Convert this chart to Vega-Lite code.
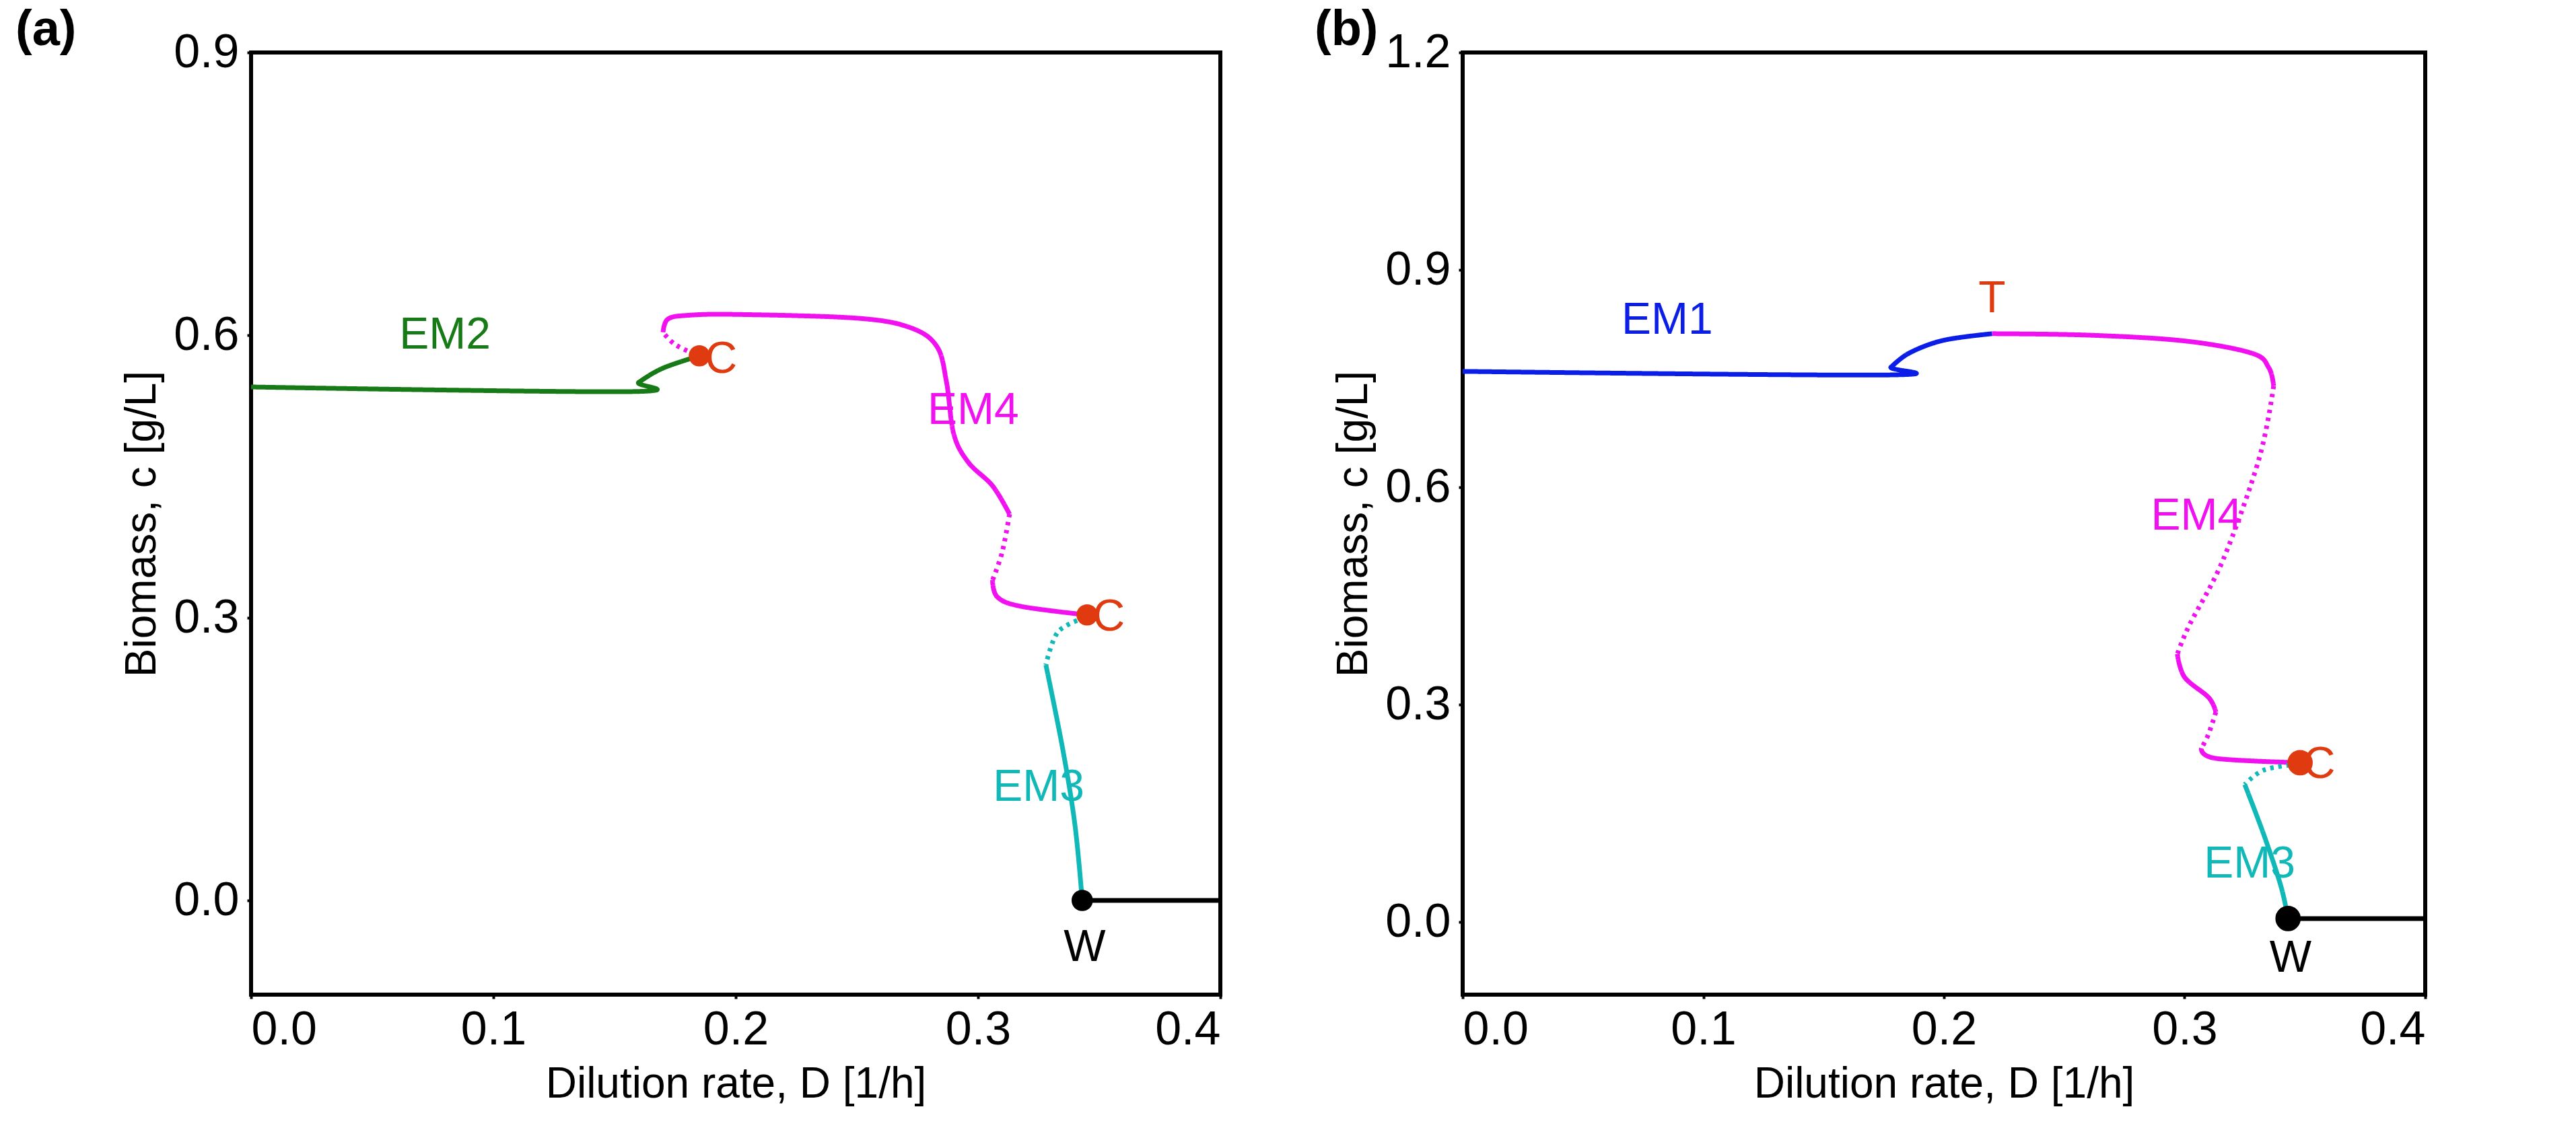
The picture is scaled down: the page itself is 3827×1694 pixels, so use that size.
{
  "$schema": "https://vega.github.io/schema/vega-lite/v6.json",
  "background": "white",
  "padding": {"left": 20, "top": 5, "right": 40, "bottom": 5},
  "spacing": 120,
  "config": {
    "font": "Liberation Sans",
    "view": {"stroke": "black", "strokeWidth": 6},
    "axis": {"grid": false, "domain": false, "ticks": true, "tickSize": 6, "tickWidth": 4, "tickColor": "black",
      "labelFontSize": 70, "labelColor": "black", "titleFontSize": 64, "titleFontWeight": "normal", "titleColor": "black", "labelPadding": 12, "titlePadding": 14, "format": ".1f"},
    "title": {"fontSize": 74, "fontWeight": "bold", "anchor": "start", "frame": "group"}
  },
  "datasets": {
    "linesA": [
      {"s": "g1", "st": "solid", "c": "EM2", "o": 1, "x": 0, "y": 0.545},
      {"s": "g1", "st": "solid", "c": "EM2", "o": 2, "x": 0.155, "y": 0.54},
      {"s": "g1", "st": "solid", "c": "EM2", "o": 3, "x": 0.16, "y": 0.55},
      {"s": "g1", "st": "solid", "c": "EM2", "o": 4, "x": 0.17, "y": 0.565},
      {"s": "g1", "st": "solid", "c": "EM2", "o": 5, "x": 0.185, "y": 0.578},
      {"s": "m1", "st": "dot", "c": "EM4", "o": 1, "x": 0.183, "y": 0.58},
      {"s": "m1", "st": "dot", "c": "EM4", "o": 2, "x": 0.175, "y": 0.59},
      {"s": "m1", "st": "dot", "c": "EM4", "o": 3, "x": 0.17, "y": 0.603},
      {"s": "m2", "st": "solid", "c": "EM4", "o": 1, "x": 0.17, "y": 0.603},
      {"s": "m2", "st": "solid", "c": "EM4", "o": 2, "x": 0.172, "y": 0.617},
      {"s": "m2", "st": "solid", "c": "EM4", "o": 3, "x": 0.18, "y": 0.621},
      {"s": "m2", "st": "solid", "c": "EM4", "o": 4, "x": 0.2, "y": 0.622},
      {"s": "m2", "st": "solid", "c": "EM4", "o": 5, "x": 0.25, "y": 0.618},
      {"s": "m2", "st": "solid", "c": "EM4", "o": 6, "x": 0.272, "y": 0.608},
      {"s": "m2", "st": "solid", "c": "EM4", "o": 7, "x": 0.283, "y": 0.588},
      {"s": "m2", "st": "solid", "c": "EM4", "o": 8, "x": 0.287, "y": 0.55},
      {"s": "m2", "st": "solid", "c": "EM4", "o": 9, "x": 0.29, "y": 0.495},
      {"s": "m2", "st": "solid", "c": "EM4", "o": 10, "x": 0.296, "y": 0.465},
      {"s": "m2", "st": "solid", "c": "EM4", "o": 11, "x": 0.306, "y": 0.44},
      {"s": "m2", "st": "solid", "c": "EM4", "o": 12, "x": 0.313, "y": 0.41},
      {"s": "m3", "st": "dot", "c": "EM4", "o": 1, "x": 0.313, "y": 0.41},
      {"s": "m3", "st": "dot", "c": "EM4", "o": 2, "x": 0.31, "y": 0.37},
      {"s": "m3", "st": "dot", "c": "EM4", "o": 3, "x": 0.306, "y": 0.34},
      {"s": "m4", "st": "solid", "c": "EM4", "o": 1, "x": 0.306, "y": 0.34},
      {"s": "m4", "st": "solid", "c": "EM4", "o": 2, "x": 0.308, "y": 0.322},
      {"s": "m4", "st": "solid", "c": "EM4", "o": 3, "x": 0.318, "y": 0.312},
      {"s": "m4", "st": "solid", "c": "EM4", "o": 4, "x": 0.345, "y": 0.303},
      {"s": "c1", "st": "dot", "c": "EM3", "o": 1, "x": 0.344, "y": 0.3},
      {"s": "c1", "st": "dot", "c": "EM3", "o": 2, "x": 0.333, "y": 0.285},
      {"s": "c1", "st": "dot", "c": "EM3", "o": 3, "x": 0.328, "y": 0.25},
      {"s": "c2", "st": "solid", "c": "EM3", "o": 1, "x": 0.328, "y": 0.25},
      {"s": "c2", "st": "solid", "c": "EM3", "o": 2, "x": 0.335, "y": 0.16},
      {"s": "c2", "st": "solid", "c": "EM3", "o": 3, "x": 0.34, "y": 0.08},
      {"s": "c2", "st": "solid", "c": "EM3", "o": 4, "x": 0.343, "y": 0},
      {"s": "k1", "st": "solid", "c": "W", "o": 1, "x": 0.343, "y": 0},
      {"s": "k1", "st": "solid", "c": "W", "o": 2, "x": 0.4, "y": 0}
    ],
    "linesB": [
      {"s": "b1", "st": "solid", "c": "EM1", "o": 1, "x": 0, "y": 0.76},
      {"s": "b1", "st": "solid", "c": "EM1", "o": 2, "x": 0.175, "y": 0.755},
      {"s": "b1", "st": "solid", "c": "EM1", "o": 3, "x": 0.178, "y": 0.766},
      {"s": "b1", "st": "solid", "c": "EM1", "o": 4, "x": 0.186, "y": 0.786},
      {"s": "b1", "st": "solid", "c": "EM1", "o": 5, "x": 0.2, "y": 0.803},
      {"s": "b1", "st": "solid", "c": "EM1", "o": 6, "x": 0.22, "y": 0.812},
      {"s": "m1", "st": "solid", "c": "EM4", "o": 1, "x": 0.22, "y": 0.812},
      {"s": "m1", "st": "solid", "c": "EM4", "o": 2, "x": 0.26, "y": 0.81},
      {"s": "m1", "st": "solid", "c": "EM4", "o": 3, "x": 0.3, "y": 0.802},
      {"s": "m1", "st": "solid", "c": "EM4", "o": 4, "x": 0.328, "y": 0.785},
      {"s": "m1", "st": "solid", "c": "EM4", "o": 5, "x": 0.335, "y": 0.765},
      {"s": "m1", "st": "solid", "c": "EM4", "o": 6, "x": 0.337, "y": 0.74},
      {"s": "m2", "st": "dot", "c": "EM4", "o": 1, "x": 0.337, "y": 0.74},
      {"s": "m2", "st": "dot", "c": "EM4", "o": 2, "x": 0.331, "y": 0.64},
      {"s": "m2", "st": "dot", "c": "EM4", "o": 3, "x": 0.316, "y": 0.5},
      {"s": "m2", "st": "dot", "c": "EM4", "o": 4, "x": 0.302, "y": 0.41},
      {"s": "m2", "st": "dot", "c": "EM4", "o": 5, "x": 0.297, "y": 0.37},
      {"s": "m3", "st": "solid", "c": "EM4", "o": 1, "x": 0.297, "y": 0.37},
      {"s": "m3", "st": "solid", "c": "EM4", "o": 2, "x": 0.3, "y": 0.338},
      {"s": "m3", "st": "solid", "c": "EM4", "o": 3, "x": 0.31, "y": 0.31},
      {"s": "m3", "st": "solid", "c": "EM4", "o": 4, "x": 0.313, "y": 0.29},
      {"s": "m4", "st": "dot", "c": "EM4", "o": 1, "x": 0.313, "y": 0.29},
      {"s": "m4", "st": "dot", "c": "EM4", "o": 2, "x": 0.31, "y": 0.26},
      {"s": "m4", "st": "dot", "c": "EM4", "o": 3, "x": 0.307, "y": 0.24},
      {"s": "m5", "st": "solid", "c": "EM4", "o": 1, "x": 0.307, "y": 0.24},
      {"s": "m5", "st": "solid", "c": "EM4", "o": 2, "x": 0.313, "y": 0.226},
      {"s": "m5", "st": "solid", "c": "EM4", "o": 3, "x": 0.348, "y": 0.22},
      {"s": "c1", "st": "dot", "c": "EM3", "o": 1, "x": 0.347, "y": 0.218},
      {"s": "c1", "st": "dot", "c": "EM3", "o": 2, "x": 0.333, "y": 0.21},
      {"s": "c1", "st": "dot", "c": "EM3", "o": 3, "x": 0.325, "y": 0.19},
      {"s": "c2", "st": "solid", "c": "EM3", "o": 1, "x": 0.325, "y": 0.19},
      {"s": "c2", "st": "solid", "c": "EM3", "o": 2, "x": 0.333, "y": 0.12},
      {"s": "c2", "st": "solid", "c": "EM3", "o": 3, "x": 0.34, "y": 0.05},
      {"s": "c2", "st": "solid", "c": "EM3", "o": 4, "x": 0.343, "y": 0.005},
      {"s": "k1", "st": "solid", "c": "W", "o": 1, "x": 0.343, "y": 0.005},
      {"s": "k1", "st": "solid", "c": "W", "o": 2, "x": 0.4, "y": 0.005}
    ],
    "ptsA": [
      {"p": "C", "x": 0.185, "y": 0.578},
      {"p": "C", "x": 0.345, "y": 0.303},
      {"p": "W", "x": 0.343, "y": 0}
    ],
    "ptsB": [
      {"p": "T", "x": 0.22, "y": 0.812},
      {"p": "C", "x": 0.348, "y": 0.22},
      {"p": "W", "x": 0.343, "y": 0.005}
    ],
    "labA": [
      {"t": "EM2", "c": "EM2", "x": 0.08, "y": 0.6, "a": "center"},
      {"t": "C", "c": "C", "x": 0.194, "y": 0.574, "a": "left"},
      {"t": "EM4", "c": "EM4", "x": 0.298, "y": 0.52, "a": "left"},
      {"t": "C", "c": "C", "x": 0.354, "y": 0.301, "a": "left"},
      {"t": "EM3", "c": "EM3", "x": 0.325, "y": 0.12, "a": "right"},
      {"t": "W", "c": "W", "x": 0.344, "y": -0.05, "a": "center"}
    ],
    "labB": [
      {"t": "EM1", "c": "EM1", "x": 0.085, "y": 0.83, "a": "center"},
      {"t": "T", "c": "C", "x": 0.22, "y": 0.86, "a": "center"},
      {"t": "EM4", "c": "EM4", "x": 0.305, "y": 0.56, "a": "right"},
      {"t": "C", "c": "C", "x": 0.356, "y": 0.218, "a": "left"},
      {"t": "EM3", "c": "EM3", "x": 0.327, "y": 0.08, "a": "right"},
      {"t": "W", "c": "W", "x": 0.344, "y": -0.05, "a": "center"}
    ]
  },
  "hconcat": [
    {
      "width": 1440,
      "height": 1400,
      "title": {"text": "(a)", "dx": -350, "offset": -40},
      "layer": [
        {
          "data": {"name": "linesA"},
          "mark": {"type": "line", "strokeWidth": 7, "interpolate": "cardinal"},
          "encoding": {
            "x": {"field": "x", "type": "quantitative", "scale": {"domain": [0, 0.4]}, "axis": {"values": [0, 0.1, 0.2, 0.3, 0.4], "title": "Dilution rate, D [1/h]"}},
            "y": {"field": "y", "type": "quantitative", "scale": {"domain": [-0.1, 0.9]}, "axis": {"values": [0, 0.3, 0.6, 0.9], "title": "Biomass, c [g/L]"}},
            "detail": {"field": "s"},
            "order": {"field": "o"},
            "color": {"field": "c", "scale": {"domain": ["EM1", "EM2", "EM3", "EM4", "W", "C"], "range": ["#0a1ee8", "#167a16", "#10b8b8", "#f010f0", "#000000", "#e03a10"]}, "legend": null},
            "strokeDash": {"field": "st", "scale": {"domain": ["solid", "dot"], "range": [[1, 0], [5, 7]]}, "legend": null}
          }
        },
        {
          "data": {"name": "ptsA"},
          "mark": {"type": "point", "filled": true, "size": 1000, "opacity": 1},
          "encoding": {
            "x": {"field": "x", "type": "quantitative"},
            "y": {"field": "y", "type": "quantitative"},
            "color": {"field": "p", "legend": null}
          }
        },
        {
          "data": {"name": "labA"},
          "mark": {"type": "text", "fontSize": 66, "baseline": "middle"},
          "encoding": {
            "x": {"field": "x", "type": "quantitative"},
            "y": {"field": "y", "type": "quantitative"},
            "text": {"field": "t"},
            "align": {"field": "a"},
            "color": {"field": "c", "legend": null}
          }
        }
      ]
    },
    {
      "width": 1430,
      "height": 1400,
      "title": {"text": "(b)", "dx": -220, "offset": -40},
      "layer": [
        {
          "data": {"name": "linesB"},
          "mark": {"type": "line", "strokeWidth": 7, "interpolate": "cardinal"},
          "encoding": {
            "x": {"field": "x", "type": "quantitative", "scale": {"domain": [0, 0.4]}, "axis": {"values": [0, 0.1, 0.2, 0.3, 0.4], "title": "Dilution rate, D [1/h]"}},
            "y": {"field": "y", "type": "quantitative", "scale": {"domain": [-0.1, 1.2]}, "axis": {"values": [0, 0.3, 0.6, 0.9, 1.2], "title": "Biomass, c [g/L]"}},
            "detail": {"field": "s"},
            "order": {"field": "o"},
            "color": {"field": "c", "scale": {"domain": ["EM1", "EM2", "EM3", "EM4", "W", "C"], "range": ["#0a1ee8", "#167a16", "#10b8b8", "#f010f0", "#000000", "#e03a10"]}, "legend": null},
            "strokeDash": {"field": "st", "scale": {"domain": ["solid", "dot"], "range": [[1, 0], [5, 7]]}, "legend": null}
          }
        },
        {
          "data": {"name": "ptsB"},
          "mark": {"type": "point", "size": 1000, "opacity": 1, "strokeWidth": 6},
          "encoding": {
            "x": {"field": "x", "type": "quantitative"},
            "y": {"field": "y", "type": "quantitative"},
            "color": {"field": "p", "legend": null},
            "fill": {"field": "p", "scale": {"domain": ["T", "C", "W"], "range": ["transparent", "#e03a10", "#000000"]}, "legend": null}
          }
        },
        {
          "data": {"name": "labB"},
          "mark": {"type": "text", "fontSize": 66, "baseline": "middle"},
          "encoding": {
            "x": {"field": "x", "type": "quantitative"},
            "y": {"field": "y", "type": "quantitative"},
            "text": {"field": "t"},
            "align": {"field": "a"},
            "color": {"field": "c", "legend": null}
          }
        }
      ]
    }
  ]
}
